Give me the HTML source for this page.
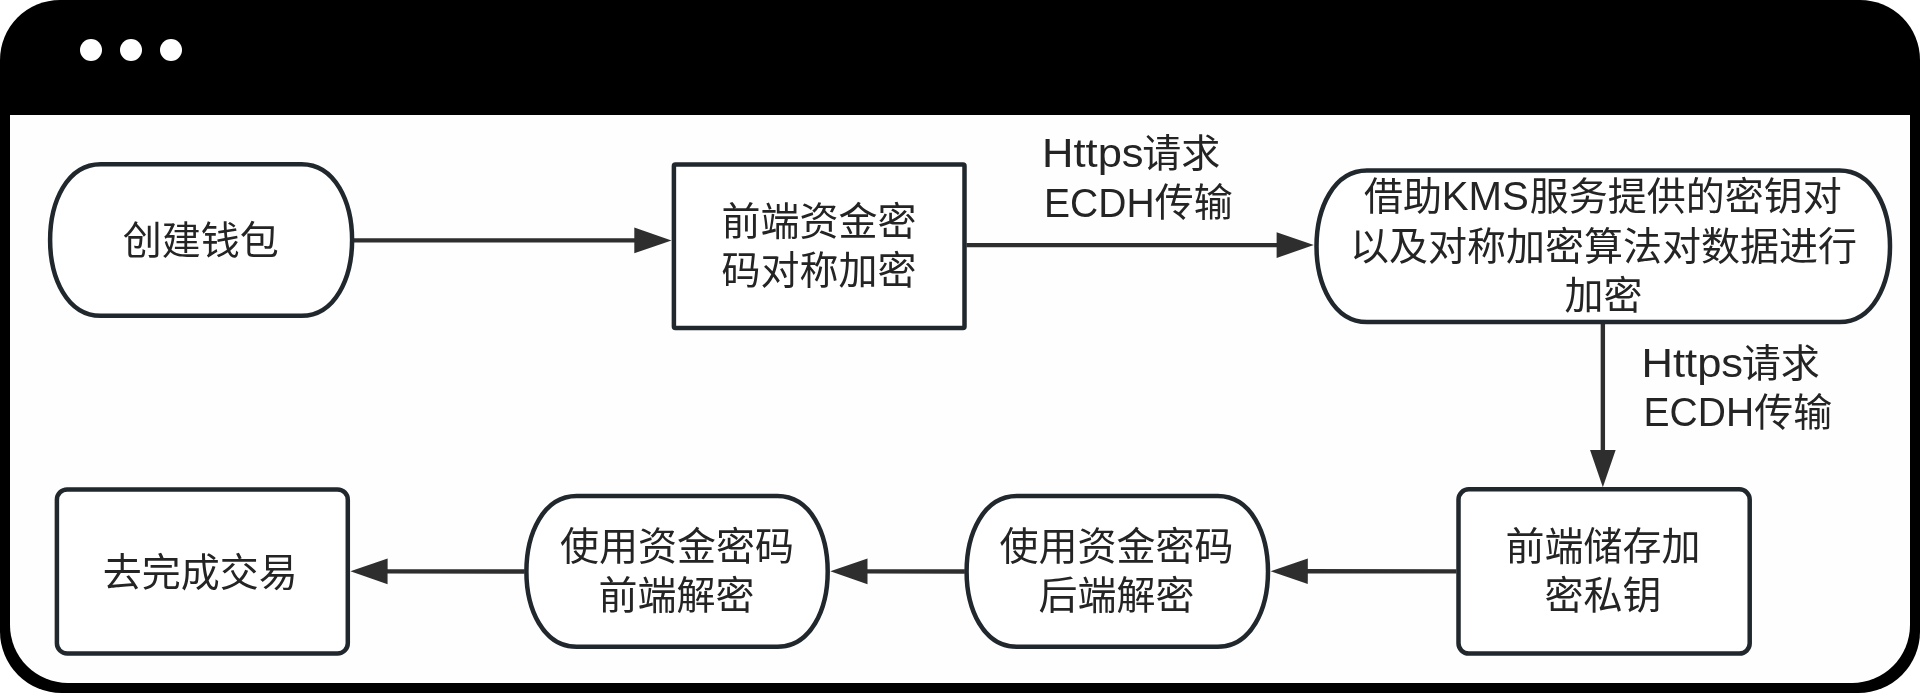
<!DOCTYPE html>
<html lang="zh-CN">
<head>
<meta charset="utf-8">
<title>创建钱包流程</title>
<style>
html,body{margin:0;padding:0;background:#fff;}
body{width:1920px;height:693px;overflow:hidden;position:relative;font-family:"Liberation Sans","Noto Sans CJK SC",sans-serif;}
.win{position:absolute;left:0;top:0;width:1920px;height:693px;background:#000;border-radius:60px 60px 61.5px 61.5px;}
.dot{position:absolute;top:39px;width:22px;height:22px;border-radius:50%;background:#fff;}
.pane{position:absolute;left:10px;top:115px;width:1900px;height:568px;background:#fefefe;border-radius:0 0 58px 58px;}
svg{position:absolute;left:0;top:0;will-change:transform;}
svg text{font-family:"Liberation Sans","Noto Sans CJK SC",sans-serif;font-size:39px;fill:#242424;}
</style>
</head>
<body>
<div class="win">
  <div class="dot" style="left:80px"></div>
  <div class="dot" style="left:120px"></div>
  <div class="dot" style="left:160px"></div>
  <div class="pane"></div>
</div>
<svg width="1920" height="693" viewBox="0 0 1920 693">
<g fill="#2e2e2e" stroke="#2e2e2e" stroke-width="4.4">
<line x1="354" y1="240.4" x2="636.30" y2="240.40"/><polygon stroke="none" points="671.50,240.40 634.30,253.20 634.30,227.60"/>
<line x1="966.5" y1="245.1" x2="1278.60" y2="245.10"/><polygon stroke="none" points="1313.80,245.10 1276.60,257.90 1276.60,232.30"/>
<line x1="1602.85" y1="324" x2="1602.85" y2="452.00"/><polygon stroke="none" points="1602.85,487.20 1590.05,450.00 1615.65,450.00"/>
<line x1="1456.5" y1="571.4" x2="1305.80" y2="571.32"/><polygon stroke="none" points="1270.60,571.30 1307.81,558.52 1307.79,584.12"/>
<line x1="964.8" y1="571.5" x2="865.50" y2="571.35"/><polygon stroke="none" points="830.30,571.30 867.52,558.56 867.48,584.16"/>
<line x1="524.6" y1="571.5" x2="385.60" y2="571.34"/><polygon stroke="none" points="350.40,571.30 387.61,558.54 387.59,584.14"/>
</g>
<g fill="#ffffff" stroke="#20272d" stroke-width="4.5" stroke-linejoin="round">
<path d="M100.63,164.20 L301.57,164.20 C368.94,164.20 368.94,315.80 301.57,315.80 L100.63,315.80 C33.26,315.80 33.26,164.20 100.63,164.20 Z"/>
<rect x="673.9" y="164.4" width="290.60" height="163.60" rx="1.5" ry="1.5"/>
<path d="M1367.00,170.60 L1839.50,170.60 C1906.83,170.60 1906.83,322.10 1839.50,322.10 L1367.00,322.10 C1299.67,322.10 1299.67,170.60 1367.00,170.60 Z"/>
<rect x="1458.5" y="489.3" width="291.20" height="164.30" rx="10.3" ry="10.3"/>
<path d="M1016.87,496.00 L1217.73,496.00 C1284.76,496.00 1284.76,646.80 1217.73,646.80 L1016.87,646.80 C949.84,646.80 949.84,496.00 1016.87,496.00 Z"/>
<path d="M576.67,496.00 L777.43,496.00 C844.46,496.00 844.46,646.80 777.43,646.80 L576.67,646.80 C509.64,646.80 509.64,496.00 576.67,496.00 Z"/>
<rect x="56.9" y="489.4" width="290.90" height="164.10" rx="10.3" ry="10.3"/>
</g>
<g>
<text x="200.75" y="253.6" text-anchor="middle">创建钱包</text>
<text x="819.1" y="235" text-anchor="middle">前端资金密</text>
<text x="819.1" y="284" text-anchor="middle">码对称加密</text>
<text transform="translate(1042.0,167.2) scale(1.117,1.05)">Https</text>
<text x="1142.2" y="167" text-anchor="start">请求</text>
<text transform="translate(1044.1,216.6) scale(1.0,1.05)">ECDH</text>
<text x="1154.8" y="216.25" text-anchor="start">传输</text>
<text x="1441.9" y="210.2" text-anchor="end">借助</text>
<text transform="translate(1441.7,210.0) scale(1.03,1.05)">KMS</text>
<text x="1529.7" y="210.2" text-anchor="start">服务提供的密钥对</text>
<text x="1603.5" y="260.2" text-anchor="middle">以及对称加密算法对数据进行</text>
<text x="1603.5" y="309.3" text-anchor="middle">加密</text>
<text transform="translate(1641.5,376.7) scale(1.117,1.05)">Https</text>
<text x="1741.7" y="376.5" text-anchor="start">请求</text>
<text transform="translate(1643.6,426.2) scale(1.0,1.05)">ECDH</text>
<text x="1754.3" y="425.85" text-anchor="start">传输</text>
<text x="1603" y="559.5" text-anchor="middle">前端储存加</text>
<text x="1603" y="609" text-anchor="middle">密私钥</text>
<text x="1116.4" y="559.7" text-anchor="middle">使用资金密码</text>
<text x="1116.4" y="609.2" text-anchor="middle">后端解密</text>
<text x="677" y="559.7" text-anchor="middle">使用资金密码</text>
<text x="676.5" y="609.2" text-anchor="middle">前端解密</text>
<text x="200.15" y="585.6" text-anchor="middle">去完成交易</text>
</g>
</svg>
</body>
</html>
